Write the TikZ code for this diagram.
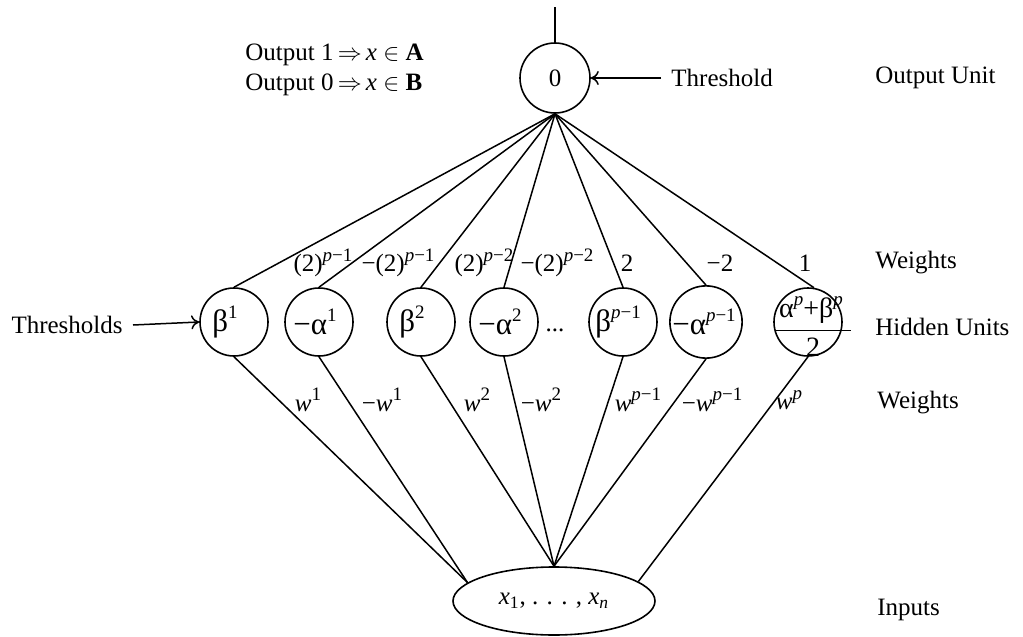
\documentclass[tikz,border=0pt]{standalone}
\usepackage{fontspec}
\setmainfont{Liberation Serif}
\usetikzlibrary{shapes.geometric, arrows.meta}

\tikzstyle{unit}=[circle, draw, line width=0.8pt, minimum size=34pt, inner sep=0pt, font=\fontsize{15.5}{18}\selectfont]
\tikzstyle{side-text}=[anchor=west, inner sep=0pt]
\tikzstyle{weight}=[inner sep=0pt]
\tikzstyle{link}=[line width=0.75pt]
\tikzstyle{pointer}=[line width=0.75pt, -{To[length=4pt, width=7pt]}]

\newcommand{\upp}[1]{\raisebox{0.42em}{\fontsize{9.5}{10}\selectfont #1}}
\newcommand{\mn}{−}

\begin{document}
\begin{tikzpicture}[x=0.5pt, y=-0.5pt, font=\fontsize{12.5}{15}\selectfont]
      \useasboundingbox (0,0) rectangle (1023,637);

      % output unit
      \node (out-unit) at (555,78) [unit, minimum size=35pt, font=\fontsize{12.5}{15}\selectfont] {0};
      \coordinate (out-top) at (555,7);
      \draw[link] (out-top) -- (out-unit.north);
      \node (out-rule) at (245,70) [side-text, align=left] {Output 1\,$\Rightarrow$\,\textit{x} $\in$ \textbf{A}\\Output 0\,$\Rightarrow$\,\textit{x} $\in$ \textbf{B}};
      \node (out-thr) at (661,78) [side-text, inner xsep=5pt] {Threshold};
      \draw[pointer] (out-thr.west) -- (out-unit.east);

      % hidden units
      \node (hidden-b1) at (234,322) [unit] {β\upp{1}\hspace*{9pt}};
      \node (hidden-a1) at (319,322) [unit] {\mn α\upp{1}\hspace*{4pt}};
      \node (hidden-b2) at (421,322) [unit] {β\upp{2}\hspace*{9pt}};
      \node (hidden-a2) at (504,322) [unit] {\mn α\upp{2}\hspace*{4pt}};
      \node (hidden-dots) at (555,330) [weight] {...};
      \node (hidden-bp) at (623,322) [unit] {β\upp{\textit{p}\mn 1}\hspace*{5pt}};
      \node (hidden-ap) at (706,322) [unit] {\mn α\upp{\textit{p}\mn 1}\hspace*{2pt}};
      \node (hidden-last) at (808,322) [unit] {};
      \node (hidden-frac) at (813,327) [weight, font=\fontsize{14}{16}\selectfont] {$\displaystyle\frac{\mbox{\hspace{2pt}α\upp{\textit{p}}+β\upp{\textit{p}}\hspace{4pt}}}{\mbox{2}}$};
      \node (hidden-thr) at (133,325) [side-text, anchor=east, inner xsep=5pt] {Thresholds};
      \draw[pointer] (hidden-thr.east) -- (hidden-b1.west);

      % inputs
      \node (in-x) at (554,601) [ellipse, draw, line width=0.8pt, minimum width=101pt, minimum height=34pt, inner sep=0pt] {\textit{x}\textsubscript{1}, . . . , \textit{x}\textsubscript{\textit{n}}};

      % output to hidden
      \draw[link] (out-unit.south) -- (hidden-b1.north);
      \draw[link] (out-unit.south) -- (hidden-a1.north);
      \draw[link] (out-unit.south) -- (hidden-b2.north);
      \draw[link] (out-unit.south) -- (hidden-a2.north);
      \draw[link] (out-unit.south) -- (hidden-bp.north);
      \draw[link] (out-unit.south) -- (hidden-ap.north);
      \draw[link] (out-unit.south) -- (hidden-last.80);

      % hidden to inputs
      \draw[link] (hidden-b1.south) -- (in-x.168);
      \draw[link] (hidden-a1.south) -- (in-x.168);
      \draw[link] (hidden-b2.south) -- (in-x.north);
      \draw[link] (hidden-a2.south) -- (in-x.north);
      \draw[link] (hidden-bp.south) -- (in-x.north);
      \draw[link] (hidden-ap.south) -- (in-x.north);
      \draw[link] (hidden-last.south) -- (in-x.13);

      % weights
      \node (weight-up1) at (323,263) [weight] {(2)\upp{\textit{p}\mn 1}};
      \node (weight-up2) at (398,263) [weight] {\mn(2)\upp{\textit{p}\mn 1}};
      \node (weight-up3) at (484,263) [weight] {(2)\upp{\textit{p}\mn 2}};
      \node (weight-up4) at (557,263) [weight] {\mn(2)\upp{\textit{p}\mn 2}};
      \node (weight-up5) at (627,263) [weight] {2};
      \node (weight-up6) at (720,263) [weight] {\mn 2};
      \node (weight-up7) at (805,263) [weight] {1};

      \node (weight-lo1) at (308,400) [weight] {\textit{w}\upp{1}};
      \node (weight-lo2) at (382,400) [weight] {\mn\textit{w}\upp{1}};
      \node (weight-lo3) at (477,400) [weight] {\textit{w}\upp{2}};
      \node (weight-lo4) at (541,400) [weight] {\mn\textit{w}\upp{2}};
      \node (weight-lo5) at (638,400) [weight] {\textit{w}\upp{\textit{p}\mn 1}};
      \node (weight-lo6) at (712,400) [weight] {\mn\textit{w}\upp{\textit{p}\mn 1}};
      \node (weight-lo7) at (789,400) [weight] {\textit{w}\upp{\textit{p}}};

      % layer names
      \node (layer-out) at (875,78) [side-text] {Output Unit};
      \node (layer-wup) at (875,263) [side-text] {Weights};
      \node (layer-hid) at (875,327) [side-text] {Hidden Units};
      \node (layer-wlo) at (877,403) [side-text] {Weights};
      \node (layer-in) at (877,610) [side-text] {Inputs};
\end{tikzpicture}
\end{document}
